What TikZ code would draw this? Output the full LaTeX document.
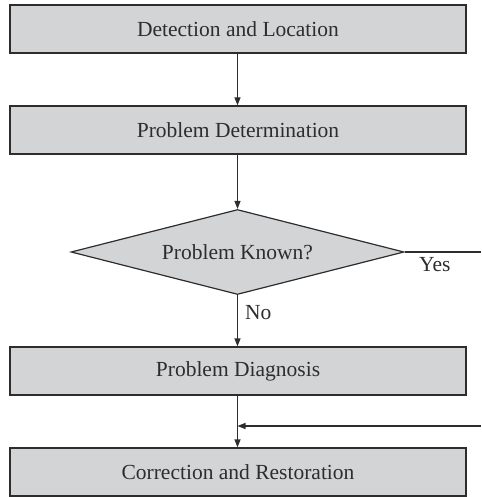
\documentclass[tikz,border=0pt]{standalone}
\usepackage{fontspec}
\setmainfont{Liberation Serif}
\usetikzlibrary{shapes.geometric,arrows.meta}
\definecolor{boxgray}{RGB}{211,212,214}
\definecolor{edge}{RGB}{45,45,45}
\tikzset{
  txt/.style={font=\fontsize{21.5}{24}\selectfont, text=edge},
  stepbox/.style={draw=edge, fill=boxgray, line width=1.2pt, minimum width=456pt,
    minimum height=48pt, inner sep=0pt, txt},
  decide/.style={draw=edge, fill=boxgray, line width=1.2pt, diamond, aspect=3.9,
    minimum width=333pt, minimum height=85pt, inner sep=0pt},
  flow/.style={draw=edge, line width=1.2pt, -{Triangle[length=8pt,width=6pt]}},
  plain/.style={draw=edge, line width=1.2pt},
  lbl/.style={txt, inner sep=0pt}
}
\begin{document}
\begin{tikzpicture}[x=1pt,y=-1pt]
  \useasboundingbox (0,0) rectangle (481,497);
  \node[stepbox] (detect) at (238,29) {Detection and Location};
  \node[stepbox] (determ) at (238,130) {Problem Determination};
  \node[decide] (known) at (237.5,252) {};
  \node[lbl] (knowntxt) at (237.5,252) {Problem Known?};
  \node[stepbox] (diag) at (238,371) {Problem Diagnosis};
  \node[stepbox] (correct) at (238,472) {Correction and Restoration};
  \coordinate (yesend) at (481,252);
  \coordinate (back) at (481,426);

  \draw[flow] (detect.south -| known.north) -- (determ.north -| known.north);
  \draw[flow] (determ.south -| known.north) -- (known.north);
  \draw[plain] (known.east) -- (yesend);
  \node[lbl, anchor=north west] (yes) at (419,257) {Yes};
  \draw[flow] (known.south) -- (diag.north -| known.south);
  \node[lbl, anchor=north west] (no) at (245,305) {No};
  \draw[flow] (diag.south -| known.south) -- (correct.north -| known.south);
  \draw[flow] (back) -- (back -| known.south);
\end{tikzpicture}
\end{document}
